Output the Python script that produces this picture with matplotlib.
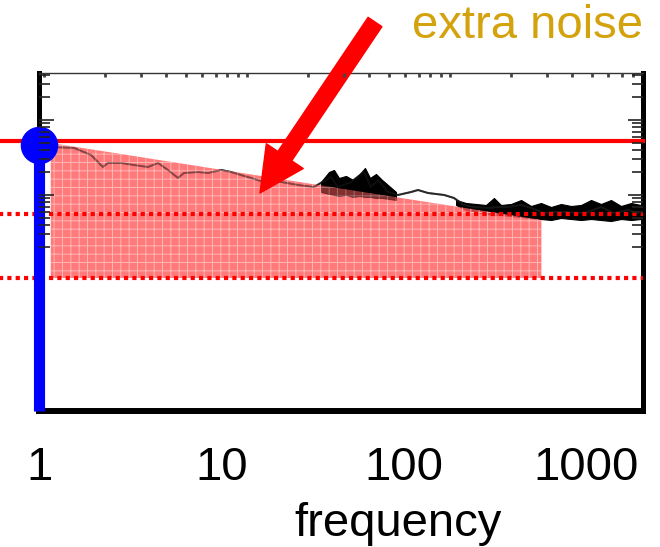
import matplotlib
matplotlib.use('Agg')
import matplotlib.pyplot as plt
from matplotlib.ticker import NullLocator, LogLocator, NullFormatter

plt.rcParams['font.family'] = ['Liberation Sans', 'DejaVu Sans']
plt.rcParams['hatch.linewidth'] = 0.7

# ---------------- data ----------------
x_ticks = [1, 10, 100, 1000]
x_tick_labels = ['1', '10', '100', '1000']

# measured noise spectrum (thin trace)
trace_freq = [1.19, 1.56, 1.93, 2.24, 2.39, 2.82, 3.32, 3.96, 4.50, 5.10, 5.79, 6.24,
              7.45, 8.45, 10.0, 11.3, 12.8, 14.6, 17.1, 21.3, 26.3, 32.2, 40.0, 43.6,
              51.5, 60.6, 66.2, 72.4, 82.1, 93.1, 110, 120, 136, 167, 189, 214, 243,
              290, 330, 374, 441, 500, 589, 668, 798, 905, 1027, 1210, 1426, 1702, 1932]
trace_level = [264, 263, 256, 244, 248, 248, 246, 244, 248, 241, 233, 238,
               239, 238, 241, 239, 236, 233, 229, 229, 226, 224, 234, 224,
               229, 239, 224, 231, 219, 216, 219, 221, 218, 216, 213, 206, 204,
               203, 204, 204, 206, 203, 198, 199, 199, 198, 199, 204, 198, 201, 198]

# noisy band around 40-90
band1_freq = [35.2, 39.0, 41.5, 44.2, 48.3, 52.8, 56.9, 61.4, 65.4, 70.6, 76.2, 83.2, 90.8]
band1_upper = [229, 239, 241, 233, 235, 231, 236, 243, 233, 237, 231, 225, 219]
band1_lower = [219, 217, 216, 215, 216, 214, 215, 214, 214, 213, 213, 212, 211]

# noisy band at high frequency
band2_freq = [194, 220, 250, 283, 313, 342, 388, 441, 500, 567, 644, 730, 829, 940,
              1067, 1210, 1373, 1559, 1768, 2005]
band2_upper = [211, 208, 207, 206, 213, 206, 207, 211, 205, 208, 204, 207, 205, 206,
               211, 207, 211, 205, 208, 206]
band2_lower = [206, 201, 199, 197, 196, 196, 195, 194, 193, 192, 191, 193, 192, 191,
               192, 191, 190, 192, 191, 192]

# shaded "extra noise" region
excess_freq = [1.16, 570]
excess_top = [268, 191]
excess_floor = 133

# reference levels
level_solid = 270
level_dotted = [197, 133]
marker_freq = 1
marker_level = 266

arrow_tip = (16.3, 218)

# ---------------- figure ----------------
W, H = 660, 547
fig = plt.figure(figsize=(6.6, 5.47), dpi=100)


def frac(l, t, r, b):
    return [l / W, 1 - b / H, (r - l) / W, (b - t) / H]


ax = fig.add_axes(frac(39, 73, 643, 411))
ax.set_xscale('log')
ax.set_xlim(1, 2057)
ax.set_ylim(0, 338)

ax.plot(trace_freq, trace_level, color='#222222', lw=1.4, zorder=2)
ax.fill_between(band1_freq, band1_lower, band1_upper, color='black', lw=0.8, zorder=2)
ax.fill_between(band2_freq, band2_lower, band2_upper, color='black', lw=0.8, zorder=2)

ax.fill_between(excess_freq, excess_floor, excess_top, facecolor='#ff5a5a',
                edgecolor='#ffc4c4', hatch='++', lw=0, alpha=0.8, zorder=3)
# trace shows through the shading
ax.plot(trace_freq, trace_level, color='#333333', lw=1.4, alpha=0.45, zorder=3.5)
ax.fill_between(band1_freq, band1_lower, band1_upper, color='black', lw=0.5,
                alpha=0.35, zorder=3.5)

ax.axhline(level_solid, xmin=-0.066, xmax=1, color='red', lw=3, clip_on=False, zorder=4)
for lv in level_dotted:
    ax.axhline(lv, xmin=-0.066, xmax=1, color='red', lw=3, ls=(0, (1, 1)),
               clip_on=False, zorder=4)

ax.plot([marker_freq, marker_freq], [0, marker_level], color='#0000ff', lw=8,
        solid_capstyle='butt', clip_on=False, zorder=6)
ax.scatter([marker_freq], [marker_level], s=676, color='#0000ff', clip_on=False, zorder=7)

ax.set_xticks(x_ticks)
ax.set_xticklabels(x_tick_labels)
ax.xaxis.set_minor_locator(NullLocator())
ax.set_yticks([])
ax.tick_params(axis='x', length=0, pad=25, labelsize=34)
ax.set_xlabel('frequency', fontsize=34)
ax.xaxis.set_label_coords(0.594, -0.27)

for s in ['left', 'right']:
    ax.spines[s].set_linewidth(3.6)
ax.spines['bottom'].set_linewidth(4.3)
ax.spines['top'].set_linewidth(1.0)
ax.spines['top'].set_color('#333333')

ax.annotate('', xy=arrow_tip, xytext=(375, H - 22), textcoords='figure pixels',
            arrowprops=dict(arrowstyle='simple,head_length=1.6,head_width=1.6,tail_width=0.6',
                            mutation_scale=20, color='red', shrinkA=0, shrinkB=0),
            annotation_clip=False, zorder=8)

fig.text(412 / W, 1 - 38 / H, 'extra noise', color='#d4a20c', fontsize=34,
         ha='left', va='baseline')

# original plot's tick marks (upper part of the frame)
ax2 = fig.add_axes(frac(39, 73, 643, 248))
ax2.set_xscale('log')
ax2.set_yscale('log')
ax2.set_xlim(0.945, 893)
ax2.set_ylim(0.196, 42.3)
ax2.patch.set_visible(False)
for s in ax2.spines.values():
    s.set_visible(False)
ax2.yaxis.set_minor_locator(LogLocator(subs=range(2, 10)))
ax2.xaxis.set_minor_locator(LogLocator(subs=range(2, 10)))
ax2.xaxis.set_minor_formatter(NullFormatter())
ax2.yaxis.set_minor_formatter(NullFormatter())
ax2.tick_params(axis='y', which='both', direction='in', left=True, right=True,
                labelleft=False, labelright=False, width=1.2, colors='#222222')
ax2.tick_params(axis='y', which='major', length=11)
ax2.tick_params(axis='y', which='minor', length=8)
ax2.tick_params(axis='x', which='both', direction='in', top=True, bottom=False,
                labeltop=False, labelbottom=False, length=3, width=2, colors='#444444')

fig.savefig('out.png', dpi=100)
